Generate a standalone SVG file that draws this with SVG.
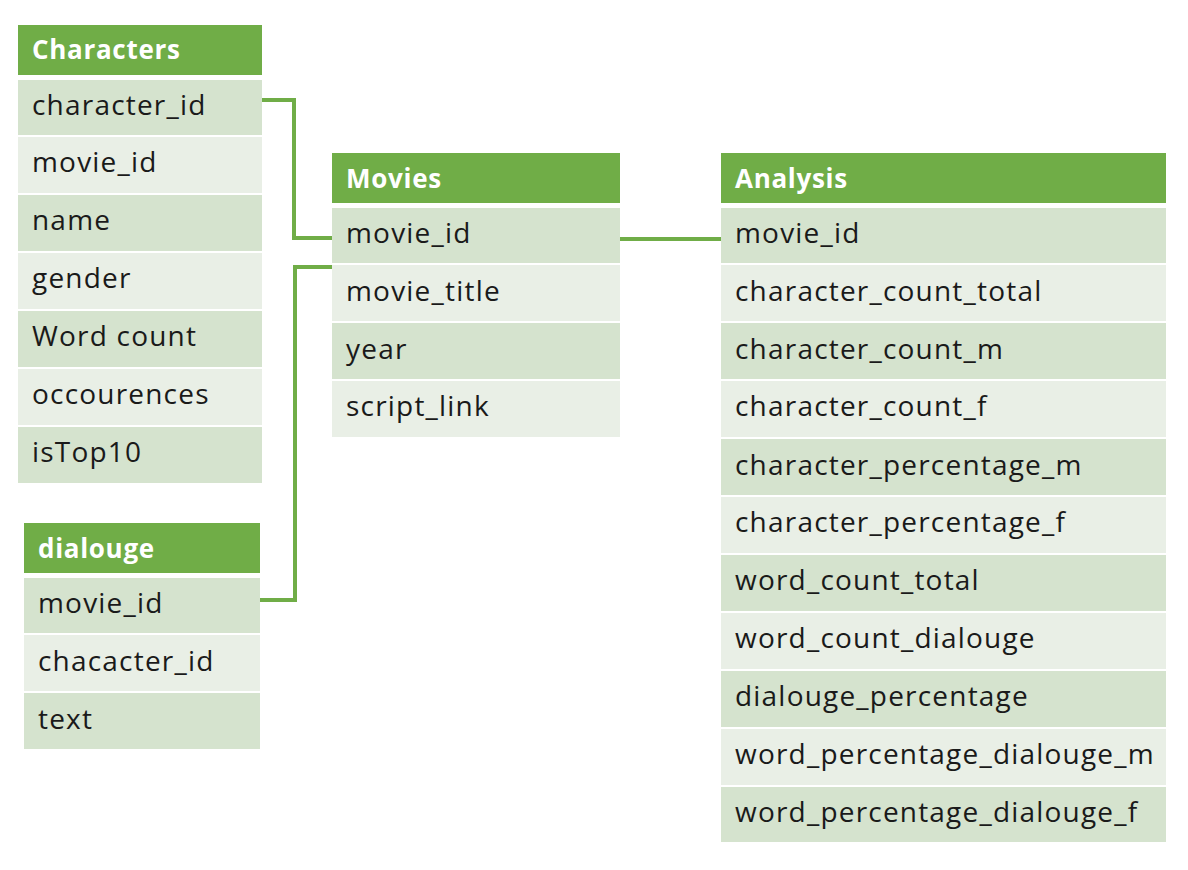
<svg xmlns="http://www.w3.org/2000/svg" width="1188" height="870" viewBox="0 0 1188 870">
<style>
.h{fill:#70AD47}
.r1{fill:#D5E3CE}
.r2{fill:#E9EFE6}
.ht{font-family:"Open Sans",Lato,sans-serif;font-weight:bold;font-size:26px;letter-spacing:0.7px;fill:#fff}
.t{font-family:"Open Sans",Lato,sans-serif;font-size:28px;letter-spacing:1.2px;fill:#1a1a1a}
.c{fill:none;stroke:#70AD47;stroke-width:4}
</style>
<rect width="1188" height="870" fill="#fff"/>
<g id="characters">
<rect class="h" x="18" y="25" width="244" height="50"/>
<text class="ht" x="32" y="59">Characters</text>
<rect class="r1" x="18" y="80" width="244" height="55"/>
<text class="t" x="32" y="115">character_id</text>
<rect class="r2" x="18" y="137" width="244" height="56"/>
<text class="t" x="32" y="172">movie_id</text>
<rect class="r1" x="18" y="195" width="244" height="56"/>
<text class="t" x="32" y="230">name</text>
<rect class="r2" x="18" y="253" width="244" height="56"/>
<text class="t" x="32" y="288">gender</text>
<rect class="r1" x="18" y="311" width="244" height="56"/>
<text class="t" x="32" y="346">Word count</text>
<rect class="r2" x="18" y="369" width="244" height="56"/>
<text class="t" x="32" y="404">occourences</text>
<rect class="r1" x="18" y="427" width="244" height="56"/>
<text class="t" x="32" y="462">isTop10</text>
</g>
<g id="dialouge">
<rect class="h" x="24" y="523" width="236" height="50"/>
<text class="ht" x="38" y="558">dialouge</text>
<rect class="r1" x="24" y="578" width="236" height="55"/>
<text class="t" x="38" y="613">movie_id</text>
<rect class="r2" x="24" y="635" width="236" height="56"/>
<text class="t" x="38" y="671">chacacter_id</text>
<rect class="r1" x="24" y="693" width="236" height="56"/>
<text class="t" x="38" y="729">text</text>
</g>
<g id="movies">
<rect class="h" x="332" y="153" width="288" height="50"/>
<text class="ht" x="346" y="188">Movies</text>
<rect class="r1" x="332" y="208" width="288" height="55"/>
<text class="t" x="346" y="243">movie_id</text>
<rect class="r2" x="332" y="265" width="288" height="56"/>
<text class="t" x="346" y="301">movie_title</text>
<rect class="r1" x="332" y="323" width="288" height="56"/>
<text class="t" x="346" y="359">year</text>
<rect class="r2" x="332" y="381" width="288" height="56"/>
<text class="t" x="346" y="416">script_link</text>
</g>
<g id="analysis">
<rect class="h" x="721" y="153" width="445" height="50"/>
<text class="ht" x="735" y="188">Analysis</text>
<rect class="r1" x="721" y="208" width="445" height="55"/>
<text class="t" x="735" y="243">movie_id</text>
<rect class="r2" x="721" y="265" width="445" height="56"/>
<text class="t" x="735" y="301">character_count_total</text>
<rect class="r1" x="721" y="323" width="445" height="56"/>
<text class="t" x="735" y="359">character_count_m</text>
<rect class="r2" x="721" y="381" width="445" height="56"/>
<text class="t" x="735" y="416">character_count_f</text>
<rect class="r1" x="721" y="439" width="445" height="56"/>
<text class="t" x="735" y="475">character_percentage_m</text>
<rect class="r2" x="721" y="497" width="445" height="56"/>
<text class="t" x="735" y="532">character_percentage_f</text>
<rect class="r1" x="721" y="555" width="445" height="56"/>
<text class="t" x="735" y="590">word_count_total</text>
<rect class="r2" x="721" y="613" width="445" height="56"/>
<text class="t" x="735" y="648">word_count_dialouge</text>
<rect class="r1" x="721" y="671" width="445" height="56"/>
<text class="t" x="735" y="706">dialouge_percentage</text>
<rect class="r2" x="721" y="729" width="445" height="56"/>
<text class="t" x="735" y="764">word_percentage_dialouge_m</text>
<rect class="r1" x="721" y="787" width="445" height="55"/>
<text class="t" x="735" y="822">word_percentage_dialouge_f</text>
</g>
<g id="connectors">
<path class="c" d="M262 100 H294 V238 H332"/>
<path class="c" d="M260 600 H295 V267 H332"/>
<path class="c" d="M620 239 H721"/>
</g>
</svg>
